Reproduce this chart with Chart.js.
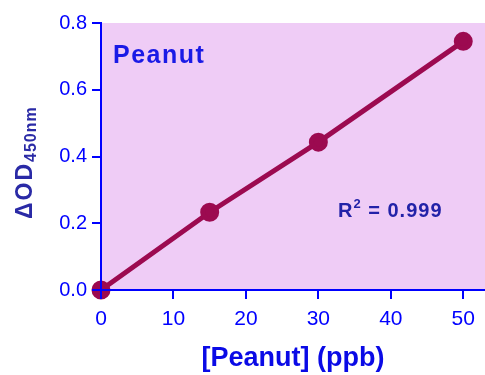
<!DOCTYPE html>
<html>
<head>
<meta charset="utf-8">
<script src="https://cdn.jsdelivr.net/npm/chart.js@4"></script>
<style>
  html, body { margin: 0; padding: 0; background: #ffffff; }
  #wrap { width: 485px; height: 375px; }
</style>
</head>
<body>
<div id="wrap"><canvas id="chart" width="485" height="375"></canvas></div>
<script>
// Standard curve values
const concentration = [0, 15, 30, 50];
const deltaOD = [0.0, 0.233, 0.443, 0.745];

// Tick labels
const xTicks = [0, 10, 20, 30, 40, 50];
const yTicks = [0.0, 0.2, 0.4, 0.6, 0.8];

const sampleName = "Peanut";
const rSquared = "0.999";

const FONT = "'Liberation Sans', Arial, sans-serif";
const AXIS_BLUE = "#0000ff";

// Pink plot background
const plotBackground = {
  id: "plotBackground",
  beforeDraw(chart) {
    const { ctx, chartArea } = chart;
    ctx.save();
    ctx.fillStyle = "#efccf6";
    ctx.fillRect(chartArea.left, chartArea.top, chartArea.right - chartArea.left, chartArea.bottom - chartArea.top);
    ctx.restore();
  },
};

// Labels with sub/superscripts drawn straight on the canvas
const textLabels = {
  id: "textLabels",
  afterDraw(chart) {
    const ctx = chart.ctx;
    ctx.save();
    if ("letterSpacing" in ctx) ctx.letterSpacing = "1.5px";

    // Sample name in the corner of the plot
    ctx.fillStyle = "#1a1ae6";
    ctx.font = "bold 25px " + FONT;
    ctx.textBaseline = "alphabetic";
    ctx.fillText(sampleName, 113, 63);

    // R squared
    if ("letterSpacing" in ctx) ctx.letterSpacing = "1px";
    ctx.fillStyle = "#2222a8";
    ctx.font = "bold 20px " + FONT;
    ctx.fillText("R", 338, 217);
    let w = ctx.measureText("R").width;
    ctx.font = "bold 13px " + FONT;
    ctx.fillText("2", 338 + w, 208);
    w += ctx.measureText("2").width;
    ctx.font = "bold 20px " + FONT;
    ctx.fillText(" = " + rSquared, 338 + w, 217);

    // Y axis title: ΔOD with 450nm subscript
    ctx.translate(32, 219);
    ctx.rotate(-Math.PI / 2);
    ctx.fillStyle = "#2a2aa6";
    ctx.font = "bold 23px " + FONT;
    if ("letterSpacing" in ctx) ctx.letterSpacing = "2px";
    ctx.fillText("ΔOD", 0, 0);
    const w2 = ctx.measureText("ΔOD").width;
    ctx.font = "bold 16px " + FONT;
    if ("letterSpacing" in ctx) ctx.letterSpacing = "1px";
    ctx.fillText("450nm", w2, 4);
    ctx.restore();
  },
};

const chart = new Chart(document.getElementById("chart"), {
  type: "line",
  plugins: [plotBackground, textLabels],
  data: {
    datasets: [
      {
        data: concentration.map((x, i) => ({ x: x, y: deltaOD[i] })),
        borderColor: "#9c0a50",
        backgroundColor: "#9c0a50",
        borderWidth: 5,
        pointRadius: 7,
        pointHoverRadius: 7,
        tension: 0,
        clip: false,
      },
    ],
  },
  options: {
    responsive: false,
    animation: false,
    layout: { autoPadding: false, padding: { top: 23, right: 0, left: 0, bottom: 0 } },
    plugins: {
      legend: { display: false },
      tooltip: { enabled: false },
    },
    scales: {
      x: {
        type: "linear",
        min: 0,
        max: 53,
        afterBuildTicks: (axis) => {
          axis.ticks = xTicks.map((v) => ({ value: v }));
        },
        afterFit: (axis) => {
          axis.height = 85;
          axis.paddingRight = 0;
          axis.paddingLeft = 0;
        },
        border: { display: true, color: AXIS_BLUE, width: 2, z: 1 },
        grid: { drawOnChartArea: false, drawTicks: true, tickLength: 9, color: AXIS_BLUE, lineWidth: 2, z: 1 },
        ticks: {
          color: AXIS_BLUE,
          padding: 8,
          font: { family: FONT, size: 21 },
        },
        title: {
          display: true,
          text: "[Peanut] (ppb)",
          color: "#0a0ae6",
          padding: { top: 3, bottom: 0 },
          font: { family: FONT, size: 27, weight: "bold" },
        },
      },
      y: {
        type: "linear",
        min: 0,
        max: 0.8,
        afterBuildTicks: (axis) => {
          axis.ticks = yTicks.map((v) => ({ value: v }));
        },
        afterFit: (axis) => {
          axis.width = 101;
        },
        border: { display: true, color: AXIS_BLUE, width: 2, z: 1 },
        grid: { drawOnChartArea: false, drawTicks: true, tickLength: 9, color: AXIS_BLUE, lineWidth: 2, z: 1 },
        ticks: {
          color: AXIS_BLUE,
          padding: 5,
          font: { family: FONT, size: 20 },
          callback: (v) => Number(v).toFixed(1),
        },
      },
    },
  },
});
</script>
</body>
</html>
